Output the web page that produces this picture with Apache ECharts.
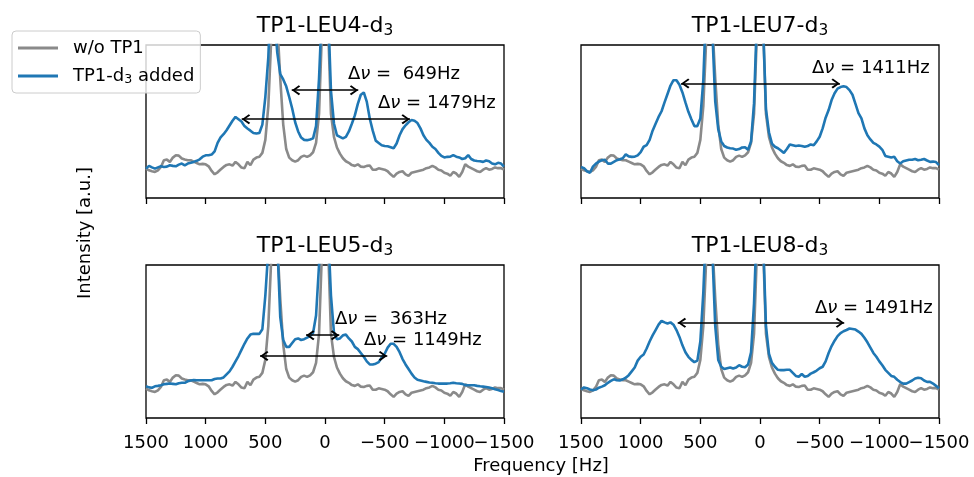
<!DOCTYPE html>
<html>
<head>
<meta charset="utf-8">
<script src="https://cdn.jsdelivr.net/npm/echarts@6/dist/echarts.min.js"></script>
<style>
  html, body { margin: 0; padding: 0; background: #fff; }
  #main { width: 974px; height: 477px; }
</style>
</head>
<body>
<div id="main"></div>
<script>
// frequency grid: 1500 Hz down to -1500 Hz, 25 Hz apart
var freqStep = 25;
var freq = [];
for (var f = 1500; f >= -1500; f -= freqStep) freq.push(f);

// x tick labels (the two rightmost touch each other, as in the original)
var tickValues = [1500, 1000, 500, 0, -500, -1000, -1500];

// reference spectrum without TP1 (same in every panel)
var noTP1 = [
  19.2, 18.1, 17.5, 17.0, 18.1, 20.3, 24.7, 25.1, 23.6, 26.4,
  27.9, 27.7, 25.8, 25.1, 24.7, 24.7, 23.8, 22.9, 22.0, 22.3,
  22.0, 20.7, 17.7, 15.5, 16.8, 18.6, 20.3, 21.6, 22.0, 21.2,
  23.6, 22.0, 19.9, 19.4, 23.6, 21.4, 25.1, 26.4, 26.9, 29.5,
  38, 60, 105, 135, 115, 78, 48, 32, 26.4, 24.7,
  23.8, 24.7, 26.9, 27.7, 26.9, 27.9, 29.9, 36, 55, 110,
  200, 115, 55, 40, 33, 29, 26, 24, 23, 21.5,
  21.0, 22, 20.5, 20.3, 21, 21.2, 18.5, 18.5, 19.4, 19,
  18.5, 17.5, 15.5, 13.8, 15.9, 17, 17.5, 15.5, 14.5, 16.5,
  17, 17.5, 18, 18.5, 19.5, 20, 21, 20, 18.5, 18,
  16.5, 15.9, 14.5, 17, 16, 13.8, 17, 22, 20.5, 19.5,
  18.5, 17.5, 17, 18.5, 19.5, 18.5, 19, 20, 19.5, 19.5,
  18.5
];

// spectra with TP1-d3 added
var leu4 = [
  19.2, 21, 20, 19.2, 20, 20.7, 20.3, 20.5, 21.4, 21,
  20.7, 21.8, 22.5, 21.4, 22.5, 23, 23.6, 24.3, 25.3, 27,
  27.9, 27.9, 28.4, 30.5, 36, 39.6, 41.7, 44.3, 47.4, 50.5,
  53, 51.5, 50, 47, 45.4, 44, 42.5, 42.1, 42.5, 48,
  66, 92, 140, 120, 95, 81, 77.5, 73, 66, 58.5,
  49.5, 43.5, 39.5, 38, 37.8, 38.2, 39, 47, 78, 125,
  210, 125, 70, 48.7, 41, 40, 39, 40, 43.5, 48.5,
  54, 61.5, 67.5, 69, 63, 52, 44, 37.5, 36, 34.5,
  34, 33.8, 33.2, 32.5, 35.6, 41, 45, 47.5, 49.5, 51,
  50.5, 49, 45.5, 41, 38, 36, 33.5, 32, 29.5, 27.5,
  26.5, 26.9, 27, 28, 27, 26.5, 25.5, 26, 28, 25.5,
  24.5, 24.2, 24, 23.6, 24.5, 24, 22.5, 22, 23, 22.5,
  20.5
];
var leu7 = [
  20.3, 19.5, 17.5, 16.5, 20.5, 22.5, 23.8, 24.7, 25, 22.5,
  22.5, 23.6, 24.7, 25.3, 26, 28.5, 27.2, 26.9, 27, 27.9,
  30, 33.5, 34.5, 38, 44, 48.5, 53, 56.7, 62.5, 68,
  73.5, 77, 77, 74, 69, 62.5, 56.3, 51.5, 47, 47,
  52, 77, 130, 130, 110, 63, 45, 37, 34, 33,
  32.5, 32.3, 31.5, 32, 33, 33.2, 31.5, 37, 62, 120,
  210, 115, 58, 43, 35.5, 33.5, 32.5, 31, 29.5, 32,
  35, 34.5, 34, 34.3, 34, 33.5, 34, 35, 34.5, 37,
  40, 45.5, 52.5, 57.5, 64, 68.5, 71.5, 72.5, 73, 72.5,
  70.5, 67.5, 61.5, 55.5, 52, 45.5, 41, 38.3, 36, 35,
  33.6, 31.5, 27.5, 27, 26.5, 26.9, 24, 22.5, 24, 24.5,
  25, 25, 25.5, 24.7, 25, 25.5, 24.5, 23.6, 23.8, 23.5,
  21.5
];
var leu5 = [
  20.7, 20, 19.8, 20.7, 21, 21.4, 22, 22.3, 22.5, 22.3,
  22, 22.7, 23, 23, 24, 24.5, 24.8, 24.7, 24.7, 24.7,
  24.7, 24.7, 24.7, 25.5, 25.8, 25.8, 26.5, 28.5, 30.5, 33.5,
  37, 40.5, 44.5, 48.5, 52, 54.5, 55, 55, 55, 58,
  80, 110, 150, 150, 115, 66, 51, 46.5, 46.5, 49,
  51.5, 52, 51, 51.5, 52.5, 53.5, 55.5, 67, 100, 150,
  220, 125, 80, 56, 51.5, 52, 54, 54.5, 52, 50,
  46.5, 45, 42.5, 40, 37, 35, 35, 35.5, 36.5, 39.5,
  42, 46, 48.5, 48.5, 46.5, 43, 38.5, 35, 32, 29,
  26.5, 25, 24.5, 24, 23.6, 23.2, 23, 22.7, 22.5, 22.5,
  22.5, 22.5, 22.7, 23, 22.7, 22.5, 22.3, 21.5, 21.4, 21.4,
  21.4, 21, 20.7, 20.5, 20.3, 19.9, 19.4, 18.8, 18.3, 17.7,
  17.2
];
var leu8 = [
  18.6, 20, 19.5, 18.6, 18.2, 18.6, 19.8, 20.5, 21.4, 23,
  24.2, 25.3, 24.7, 24.5, 25.3, 26.3, 28, 30.5, 33, 37.5,
  40, 41.5, 45.4, 50, 54, 57.5, 61, 63.5, 62.5, 61.8,
  62.5, 61, 57.5, 53, 47.5, 43, 40, 38, 36.5, 37.5,
  50, 82, 130, 140, 110, 60, 38, 33.5, 32, 32.5,
  33, 32.3, 33, 34.5, 33.5, 33.2, 35, 43, 75, 130,
  210, 120, 60, 42, 36, 33.5, 31.5, 31.3, 31.3, 31.5,
  31.5, 29.5, 27.5, 27, 28.8, 27, 27.5, 29, 29.9, 31,
  32.5, 33.5, 37, 42.5, 47, 50.5, 53.5, 55.5, 56.7, 57.5,
  58.5, 58.2, 57.8, 56.5, 55, 52.5, 49.5, 46, 42.5, 40,
  37, 34.5, 31.5, 29.5, 27.5, 26.9, 25, 23.5, 22.5, 22.5,
  23.5, 24.5, 25.8, 26.3, 26, 24.5, 23.6, 23.6, 22.5, 21,
  19.4
];

// double arrows: [from Hz, to Hz, height]
var arrowsLEU4 = [[279, -279, 70.5], [698, -712, 51.5]];
var arrowsLEU7 = [[662, -670, 74.9]];
var arrowsLEU5 = [[159, -120, 54.1], [545, -522, 40.6]];
var arrowsLEU8 = [[690, -706, 62.2]];
// splitting labels: [value text, left edge Hz, baseline height]
var labelsLEU4 = [[' 649', -193, 77.1], ['1479', -444, 58.2]];
var labelsLEU7 = [['1411', -436, 81.5]];
var labelsLEU5 = [[' 363', -84, 60.8], ['1149', -327, 47.1]];
var labelsLEU8 = [['1491', -461, 68.4]];

var panels = [
  {name: 'LEU4', data: leu4, arrows: arrowsLEU4, labels: labelsLEU4, left: 146, top: 45},
  {name: 'LEU7', data: leu7, arrows: arrowsLEU7, labels: labelsLEU7, left: 581, top: 45},
  {name: 'LEU5', data: leu5, arrows: arrowsLEU5, labels: labelsLEU5, left: 146, top: 265},
  {name: 'LEU8', data: leu8, arrows: arrowsLEU8, labels: labelsLEU8, left: 581, top: 265}
];

var FONT = 'DejaVu Sans';
var BLUE = '#1f77b4', GREY = '#8a8a8a';
var PW = 358, PH = 153;
// open chevron arrow head, tip at the centre of its box
var HEAD = 'path://M5,0L5.01,0L5,0.01Z M5,10L10,18L8.6,19.6L5,13.4L1.4,19.6L0,18Z';

function pairs(arr) {
  return freq.map(function (f, i) { return [f, arr[i]]; });
}
function tickText(v) {
  return v < 0 ? '\u2212' + Math.abs(v) : String(v);
}

var grids = [], xAxes = [], yAxes = [], series = [];
panels.forEach(function (p, k) {
  grids.push({left: p.left, top: p.top, width: PW, height: PH, show: true,
    borderColor: '#000', borderWidth: 1.3, backgroundColor: 'transparent'});
  xAxes.push({
    gridIndex: k, type: 'value', min: -1500, max: 1500, interval: 500, inverse: true,
    axisLine: {show: false},
    axisTick: {show: true, length: 6, lineStyle: {color: '#000', width: 1.3}},
    splitLine: {show: false},
    axisLabel: {show: false}
  });
  yAxes.push({gridIndex: k, type: 'value', min: 0, max: 100, show: false});
  series.push({
    name: 'w/o TP1', type: 'line', xAxisIndex: k, yAxisIndex: k,
    data: pairs(noTP1), symbol: 'none', clip: true, z: 2,
    lineStyle: {color: GREY, width: 2.6}, itemStyle: {color: GREY}
  });
  series.push({
    name: 'TP1-d3 added', type: 'line', xAxisIndex: k, yAxisIndex: k,
    data: pairs(p.data), symbol: 'none', clip: true, z: 3,
    lineStyle: {color: BLUE, width: 2.6}, itemStyle: {color: BLUE},
    markLine: {
      silent: true, animation: false,
      symbol: [HEAD, HEAD], symbolSize: [10, 17],
      lineStyle: {color: '#000', width: 1.7, type: 'solid'},
      itemStyle: {color: '#000'},
      label: {show: false}, emphasis: {disabled: true},
      data: p.arrows.map(function (a) {
        return [{coord: [a[0], a[2]]}, {coord: [a[1], a[2]]}];
      })
    }
  });
});

var chart = echarts.init(document.getElementById('main'));
chart.setOption({
  animation: false,
  backgroundColor: '#fff',
  legend: {
    data: ['w/o TP1', 'TP1-d3 added'],
    orient: 'vertical', left: 12, top: 31,
    icon: 'rect', itemWidth: 40, itemHeight: 3, itemGap: 8,
    padding: [7, 6, 7, 6],
    backgroundColor: 'rgba(255,255,255,0.8)',
    borderColor: '#cccccc', borderWidth: 1, borderRadius: 4,
    formatter: function (name) {
      return name === 'TP1-d3 added' ? 'TP1-d{s|3} added' : name;
    },
    textStyle: {
      fontSize: 18, fontFamily: FONT, color: '#000', lineHeight: 20, padding: [0, 0, 0, 10],
      rich: {s: {fontSize: 12.6, fontFamily: FONT, color: '#000', verticalAlign: 'bottom', lineHeight: 9}}
    }
  },
  grid: grids,
  xAxis: xAxes,
  yAxis: yAxes,
  series: series
});

// texts: panel titles, tick labels, axis labels, splitting labels
var g = [];
var titleCentre = [[325, 26], [760, 26], [325, 246], [760, 246]];
panels.forEach(function (p, k) {
  g.push({
    type: 'text', x: titleCentre[k][0], y: titleCentre[k][1],
    style: {
      text: 'TP1-' + p.name + '-d{s|3}', font: '22px "' + FONT + '"', fill: '#000',
      align: 'center', verticalAlign: 'middle', lineHeight: 24,
      rich: {s: {fontSize: 15.4, fontFamily: FONT, fill: '#000', verticalAlign: 'bottom', lineHeight: 11}}
    }
  });
  if (k >= 2) {
    tickValues.forEach(function (v) {
      var px = chart.convertToPixel({gridIndex: k}, [v, 0]);
      g.push({
        type: 'text', x: px[0], y: p.top + PH + 25,
        style: {text: tickText(v), font: '18px "' + FONT + '"', fill: '#000', align: 'center', verticalAlign: 'middle'}
      });
    });
  }
  p.labels.forEach(function (lab) {
    var pt = chart.convertToPixel({gridIndex: k}, [lab[1], lab[2]]);
    g.push({
      type: 'text', x: pt[0], y: pt[1] - 5.4, z: 10,
      style: {
        text: '\u0394{i|\u03bd} = ' + lab[0] + 'Hz', font: '18px "' + FONT + '"', fill: '#000',
        align: 'left', verticalAlign: 'middle',
        rich: {i: {fontSize: 18, fontFamily: FONT, fontStyle: 'italic', fill: '#000'}}
      }
    });
  });
});
g.push({
  type: 'text', x: 541, y: 466,
  style: {text: 'Frequency [Hz]', font: '18px "' + FONT + '"', fill: '#000', align: 'center', verticalAlign: 'middle'}
});
g.push({
  type: 'text', x: 85, y: 233, rotation: Math.PI / 2,
  style: {text: 'Intensity [a.u.]', font: '18px "' + FONT + '"', fill: '#000', align: 'center', verticalAlign: 'middle'}
});
chart.setOption({graphic: g});
</script>
</body>
</html>
